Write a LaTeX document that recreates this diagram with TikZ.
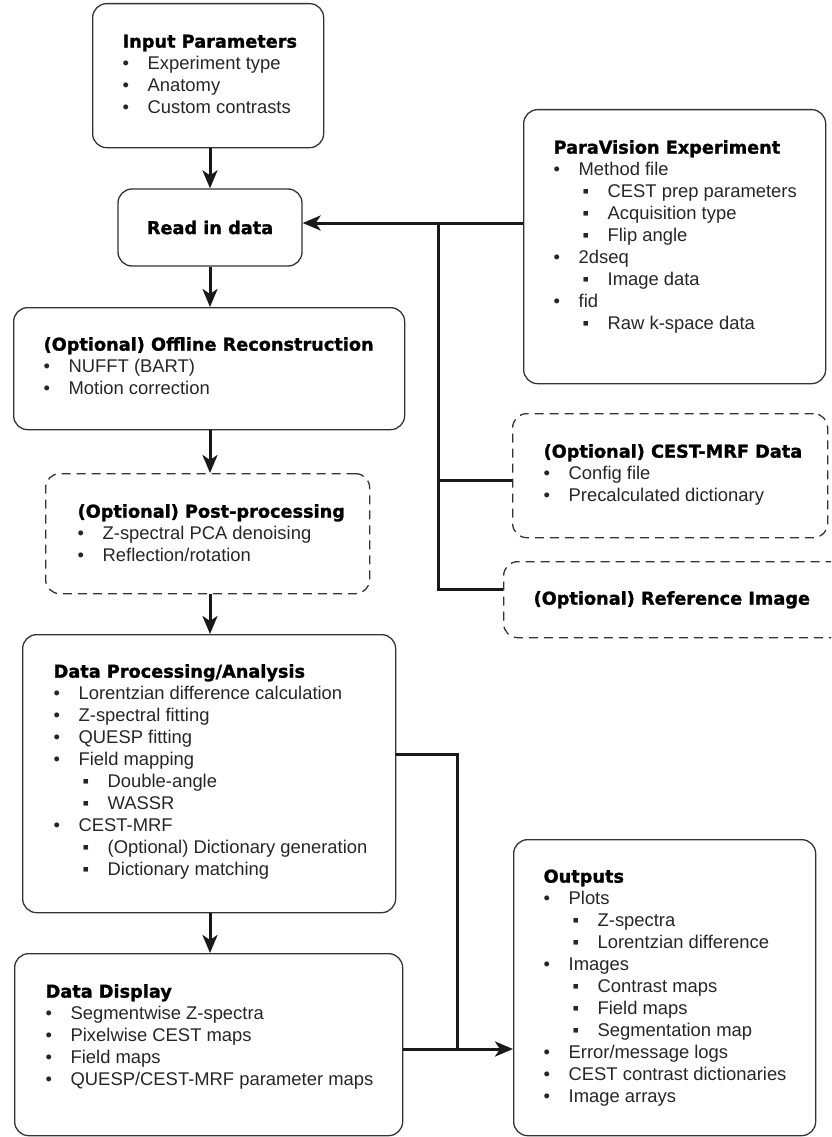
\documentclass[tikz,border=0pt]{standalone}
\usepackage{fontspec}
\setmainfont{Liberation Sans}
\newfontfamily\titlefont{DejaVu Sans}[BoldFeatures={FakeBold=1.3}]
\usetikzlibrary{arrows.meta}
\newcommand{\ls}{\rule[-6.5pt]{0pt}{22pt}}
\newcommand{\ttl}[1]{\ls{\color{black}\titlefont\bfseries\fontsize{17.7pt}{22pt}\selectfont #1}\par}
\newcommand{\ia}[1]{\ls\makebox[25pt][l]{•}#1\par}
\newcommand{\ib}[1]{\ls\hspace*{29pt}\makebox[25pt][l]{▪}#1\par}
\newcommand{\bcont}[5]{\parbox[c][#2][t]{#1}{\fontsize{18.4pt}{22pt}\selectfont\parindent=0pt\leftskip=#4\relax\lineskiplimit=-30pt\vspace*{\dimexpr#3-15.5pt\relax}#5}}
\begin{document}
\begin{tikzpicture}[x=1pt,y=-1pt,
  box/.style={draw=black!80, line width=1.3pt, rounded corners=14pt, inner sep=0pt, anchor=north west, text=black!85},
  dbox/.style={box, dash pattern=on 9pt off 6pt},
  conn/.style={line width=3pt, draw=black!90},
  arr/.style={conn, -{Stealth[length=18pt,width=15pt,inset=5pt]}}]
\useasboundingbox (0,0) rectangle (831,1137);
\clip (0,0) rectangle (831,1137);

\node[box] (inp) at (92,3) {\bcont{231pt}{144pt}{44pt}{30pt}{\ttl{Input Parameters}\ia{Experiment type}\ia{Anatomy}\ia{Custom contrasts}}};

\node[box, anchor=center, minimum width=184pt, minimum height=77pt] (read) at (210,227.5) {\titlefont\bfseries\fontsize{17.7pt}{22pt}\selectfont\color{black} Read in data};

\node[box] (pv) at (523,109) {\bcont{302pt}{274pt}{44pt}{30pt}{\ttl{ParaVision Experiment}\ia{Method file}\ib{CEST prep parameters}\ib{Acquisition type}\ib{Flip angle}\ia{2dseq}\ib{Image data}\ia{fid}\ib{Raw k-space data}}};

\node[box] (off) at (13,307) {\bcont{391pt}{122pt}{43pt}{30pt}{\ttl{(Optional) Offline Reconstruction}\ia{NUFFT (BART)}\ia{Motion correction}}};

\node[dbox] (post) at (45,473) {\bcont{324pt}{120pt}{44pt}{32pt}{\ttl{(Optional) Post-processing}\ia{Z-spectral PCA denoising}\ia{Reflection/rotation}}};

\node[box] (proc) at (22,634) {\bcont{373pt}{278pt}{43pt}{31pt}{\ttl{Data Processing/Analysis}\ia{Lorentzian difference calculation}\ia{Z-spectral fitting}\ia{QUESP fitting}\ia{Field mapping}\ib{Double-angle}\ib{WASSR}\ia{CEST-MRF}\ib{(Optional) Dictionary generation}\ib{Dictionary matching}}};

\node[box] (disp) at (14,953) {\bcont{388pt}{182pt}{44pt}{31pt}{\ttl{Data Display}\ia{Segmentwise Z-spectra}\ia{Pixelwise CEST maps}\ia{Field maps}\ia{QUESP/CEST-MRF parameter maps}}};

\node[box] (out) at (513,839) {\bcont{302pt}{296pt}{43pt}{30pt}{\ttl{Outputs}\ia{Plots}\ib{Z-spectra}\ib{Lorentzian difference}\ia{Images}\ib{Contrast maps}\ib{Field maps}\ib{Segmentation map}\ia{Error/message logs}\ia{CEST contrast dictionaries}\ia{Image arrays}}};

\node[dbox] (mrf) at (512,413) {\bcont{315pt}{124pt}{44pt}{31pt}{\ttl{(Optional) CEST-MRF Data}\ia{Config file}\ia{Precalculated dictionary}}};

\node[dbox] (ref) at (503,561) {\bcont{360pt}{76pt}{43pt}{30pt}{\ttl{(Optional) Reference Image}}};

\coordinate (j1) at (438,223);
\coordinate (j2) at (438,480);
\coordinate (j3) at (438,589);
\coordinate (k1) at (457,754);
\coordinate (k2) at (457,1049);

\draw[arr] (inp.south -| read.north) -- (read.north);
\draw[arr] (read.south) -- (read.south |- off.north);
\draw[arr] (off.south -| read.south) -- (read.south |- post.north);
\draw[arr] (post.south -| read.south) -- (read.south |- proc.north);
\draw[arr] (proc.south -| read.south) -- (read.south |- disp.north);

\draw[arr] (pv.west |- j1) -- (read.east |- j1);
\draw[conn] (j1) -- (j3) -- (ref.west |- j3);
\draw[conn] (j2) -- (mrf.west |- j2);

\draw[conn] (proc.east |- k1) -- (k1) -- (k2);
\draw[arr] (disp.east |- k2) -- (out.west |- k2);
\end{tikzpicture}
\end{document}
